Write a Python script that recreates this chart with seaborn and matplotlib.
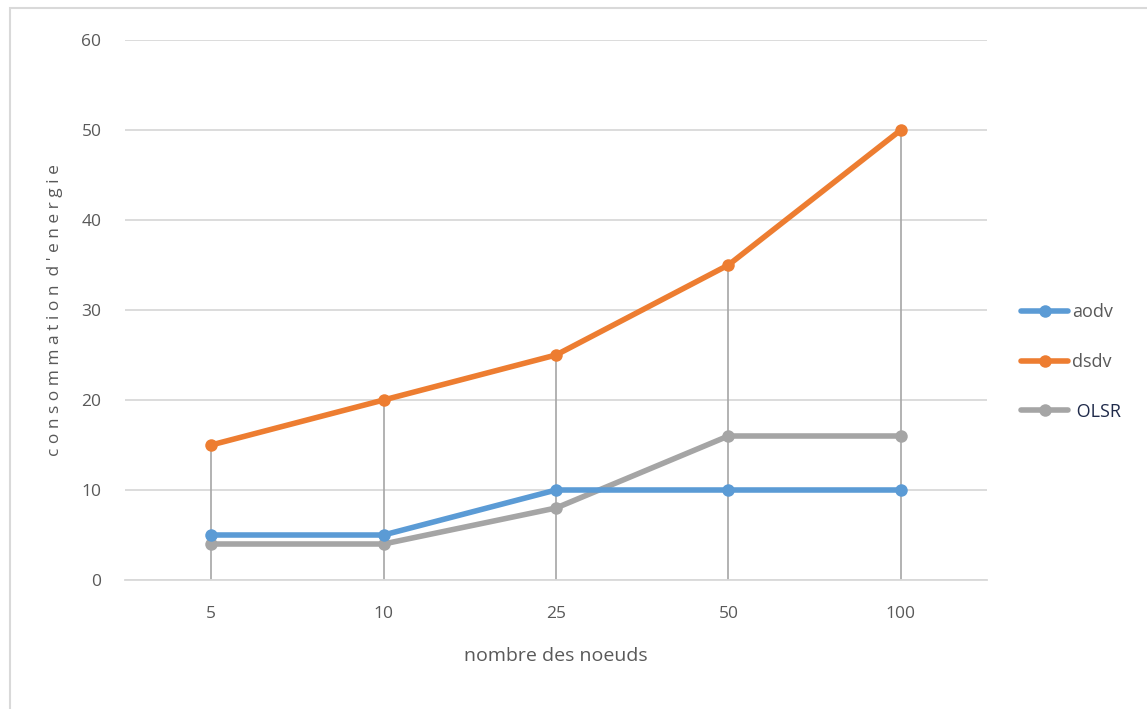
import matplotlib
matplotlib.use("Agg")
import matplotlib.pyplot as plt
import seaborn as sns
import pandas as pd
from matplotlib.patches import Rectangle
from matplotlib.lines import Line2D

# Data
nodes = ["5", "10", "25", "50", "100"]
aodv = [5, 5, 10, 10, 10]
dsdv = [15, 20, 25, 35, 50]
olsr = [4, 4, 8, 16, 16]
series_names = ["aodv", "dsdv", "OLSR"]
y_ticks = [0, 10, 20, 30, 40, 50, 60]

colors = {"aodv": "#5B9BD5", "dsdv": "#ED7D31", "OLSR": "#A5A5A5"}

sns.set_theme(style="white")
plt.rcParams["font.family"] = ["Liberation Sans Narrow", "Open Sans", "DejaVu Sans"]

rows = []
for name, vals in zip(series_names, [aodv, dsdv, olsr]):
    for i, v in enumerate(vals):
        rows.append({"pos": i, "noeuds": nodes[i], "valeur": v, "protocole": name})
df = pd.DataFrame(rows)

fig = plt.figure(figsize=(11.47, 7.09), dpi=100)
ax = fig.add_axes([125 / 1147, 1 - 580 / 709, (987 - 125) / 1147, (580 - 40) / 709])

# Outer chart border
fig.patches.append(Rectangle((10 / 1147, -0.01), 1.0, 1 - 8 / 709 + 0.01,
                             transform=fig.transFigure, fill=False,
                             edgecolor="#d9d9d9", linewidth=1.5, zorder=0))

# Drop lines from the highest point down to the axis
tops = [max(a, b, c) for a, b, c in zip(aodv, dsdv, olsr)]
ax.vlines(range(len(nodes)), 0, tops, color="#a6a6a6", linewidth=1.2, zorder=2)

sns.lineplot(data=df, x="pos", y="valeur", hue="protocole", palette=colors,
             hue_order=["OLSR", "aodv", "dsdv"], marker="o", markersize=9,
             markeredgewidth=0, linewidth=4.0, ax=ax, legend=False, zorder=3)

ax.set_xlim(-0.5, len(nodes) - 0.5)
ax.set_ylim(0, 60)
ax.set_yticks(y_ticks)
ax.set_xticks(range(len(nodes)))
ax.set_xticklabels(nodes)
ax.yaxis.grid(True, color="#d9d9d9", linewidth=1.3)
ax.set_axisbelow(True)
for s in ["top", "right", "left"]:
    ax.spines[s].set_visible(False)
ax.spines["bottom"].set_color("#d9d9d9")
ax.spines["bottom"].set_linewidth(1.3)
ax.tick_params(axis="y", length=0, pad=17, labelsize=12.5, labelcolor="#595959")
ax.tick_params(axis="x", length=0, pad=19, labelsize=12.5, labelcolor="#595959")

ax.set_xlabel("nombre des noeuds", fontsize=14, color="#595959", labelpad=18)
ax.set_ylabel("c o n s o m m a t i o n  d ' e n e r g i e", fontsize=12.5,
              color="#595959", labelpad=0)
ax.yaxis.set_label_coords(-62 / 862, 0.5)

handles = [Line2D([0], [0], color=colors[n], linewidth=4.0, marker="o",
                  markersize=9, markeredgewidth=0) for n in series_names]
leg = fig.legend(handles, ["aodv", "dsdv", " OLSR"], loc="center left",
                 bbox_to_anchor=(1014 / 1147, 1 - 362 / 709), frameon=False,
                 fontsize=13, handlelength=2.6, handletextpad=0.2,
                 labelspacing=1.75, borderaxespad=0)
for t, c in zip(leg.get_texts(), ["#595959", "#595959", "#1f2a4a"]):
    t.set_color(c)

fig.savefig("out.png", dpi=100)
